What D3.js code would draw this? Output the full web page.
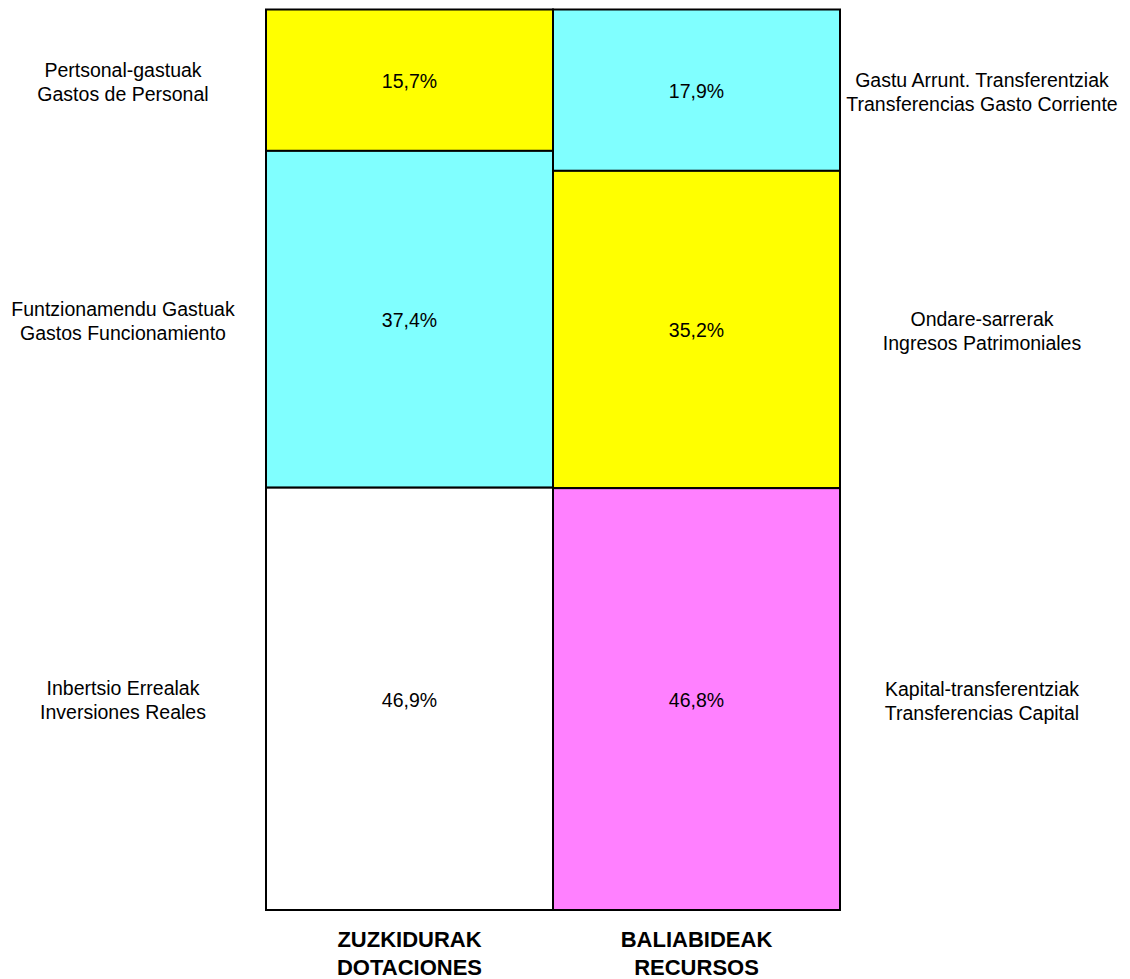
<!DOCTYPE html>
<html><head><meta charset="utf-8">
<script src="https://cdn.jsdelivr.net/npm/d3@7"></script>
<style>body{margin:0;background:#fff}svg{display:block}</style>
</head><body>
<svg id="c" width="1130" height="979"></svg>
<script>
const columns = ["ZUZKIDURAK|DOTACIONES", "BALIABIDEAK|RECURSOS"];
const dotacionesValues = [15.7, 37.4, 46.9];
const dotacionesLabels = ["Pertsonal-gastuak|Gastos de Personal", "Funtzionamendu Gastuak|Gastos Funcionamiento", "Inbertsio Errealak|Inversiones Reales"];
const dotacionesColors = ["#ffff00", "#80ffff", "#ffffff"];
const recursosValues = [17.9, 35.2, 46.8];
const recursosLabels = ["Gastu Arrunt. Transferentziak|Transferencias Gasto Corriente", "Ondare-sarrerak|Ingresos Patrimoniales", "Kapital-transferentziak|Transferencias Capital"];
const recursosColors = ["#80ffff", "#ffff00", "#ff80ff"];

const svg = d3.select("#c");
const font = "'Liberation Sans', Arial, sans-serif";
const x = d3.scaleBand().domain(columns).range([266, 840]).padding(0);
const y = d3.scaleLinear().domain([0, 100]).range([9.5, 910]);

function stackCol(col, values, labels, colors, labelX) {
  let cum = 0;
  const segs = values.map((v, i) => { const s = {v, y0: cum, y1: cum + v, label: labels[i], color: colors[i]}; cum += v; return s; });
  const total = cum;
  const ys = d3.scaleLinear().domain([0, total]).range(y.range());
  const g = svg.append("g");
  g.selectAll("rect").data(segs).join("rect")
    .attr("x", x(col)).attr("width", x.bandwidth())
    .attr("y", d => ys(d.y0)).attr("height", d => ys(d.y1) - ys(d.y0))
    .attr("fill", d => d.color).attr("stroke", "#000").attr("stroke-width", 2);
  g.selectAll("text.pct").data(segs).join("text").attr("class", "pct")
    .attr("x", x(col) + x.bandwidth() / 2)
    .attr("y", d => (ys(d.y0) + ys(d.y1)) / 2 + 1)
    .attr("text-anchor", "middle").attr("dominant-baseline", "central")
    .attr("font-family", font).attr("font-size", 19.5).attr("fill", "#000")
    .text(d => d3.format(".1f")(d.v).replace(".", ",") + "%");
  segs.forEach(d => {
    const lines = d.label.split("|");
    const cy = (ys(d.y0) + ys(d.y1)) / 2 + 1.5;
    const t = g.append("text").attr("text-anchor", "middle")
      .attr("font-family", font).attr("font-size", 19.5).attr("fill", "#000");
    lines.forEach((l, i) => {
      t.append("tspan").attr("x", labelX).attr("y", cy + (i - (lines.length - 1) / 2) * 24)
        .attr("dominant-baseline", "central").text(l);
    });
  });
}
stackCol(columns[0], dotacionesValues, dotacionesLabels, dotacionesColors, 123);
stackCol(columns[1], recursosValues, recursosLabels, recursosColors, 982);

columns.forEach(c => {
  const lines = c.split("|");
  const t = svg.append("text").attr("text-anchor", "middle")
    .attr("font-family", font).attr("font-size", 22).attr("font-weight", "bold").attr("fill", "#000");
  lines.forEach((l, i) => {
    t.append("tspan").attr("x", x(c) + x.bandwidth() / 2).attr("y", 939.5 + i * 27.5)
      .attr("dominant-baseline", "central").text(l);
  });
});
</script>
</body></html>
